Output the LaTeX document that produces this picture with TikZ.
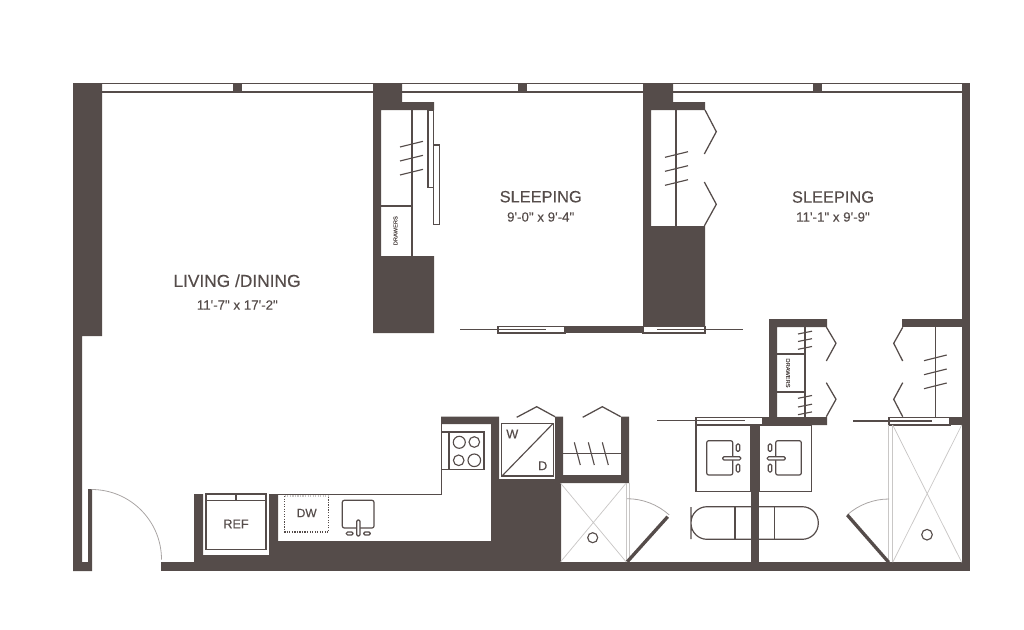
\documentclass[tikz,border=0pt]{standalone}
\usepackage{fontspec}
\setmainfont{Liberation Sans}[Ligatures=TeXOff, FakeBold=0.25]
\definecolor{wallbrown}{HTML}{554C4A}
\definecolor{fixgrey}{HTML}{C9C7C6}
\definecolor{swinggrey}{HTML}{A9A5A4}
\tikzstyle{wall} = [fill=wallbrown, draw=none]
\tikzstyle{fixture} = [draw=wallbrown, line width=0.9pt, fill=white]
\tikzstyle{thinline} = [draw=wallbrown, line width=0.85pt]
\tikzstyle{hanger} = [draw=wallbrown, line width=0.85pt]
\tikzstyle{bifold} = [draw=wallbrown, line width=0.95pt]
\tikzstyle{tiled} = [draw=fixgrey, line width=0.55pt]
\tikzstyle{swing} = [draw=swinggrey, line width=0.6pt]
\tikzstyle{leaf} = [draw=wallbrown, line width=2.5pt]
\tikzstyle{roomname} = [text=wallbrown, font=\fontsize{13}{15}\selectfont, inner sep=0pt]
\tikzstyle{roomsize} = [text=wallbrown, font=\fontsize{10}{12}\selectfont, inner sep=0pt]
\tikzstyle{applabel} = [text=wallbrown, font=\fontsize{9.5}{11}\selectfont, inner sep=0pt]
\tikzstyle{tinylabel} = [text=wallbrown, font=\fontsize{4.3}{5}\selectfont, inner sep=0pt]

\begin{document}
\begin{tikzpicture}[x=0.75pt, y=-0.75pt]
    \useasboundingbox (0,0) rectangle (1024,629);

    % windows
    \draw[thinline] (73,83.5) -- (970,83.5);
    \draw[thinline] (73,92) -- (962,92);
    \foreach \mx in {233,518,813}
        \fill[wall] (\mx,83) rectangle (\mx+9,92);

    % sleeping 1 sliders
    \draw[fixture] (498,326.5) rectangle (565,333);
    \draw[fixture] (643,326.5) rectangle (705,333);
    \draw[thinline] (460,329.5) -- (546,329.5);
    \draw[thinline] (657,329.5) -- (743,329.5);
    \draw[fixture] (696,417.5) rectangle (763,425);
    \draw[thinline] (657,420.8) -- (745,420.8);
    \draw[fixture] (889,417.5) rectangle (950,425);
    \draw[thinline] (853,421) -- (932,421);

    % tub and vanities
    \draw[fixture] (691,523) -- (691,523) [rounded corners=12pt] -- (691,506.7) -- (818.3,506.7) -- (818.3,539.3) -- (691,539.3) -- cycle;
    \draw[thinline] (735,506.7) -- (735,539.3) (774.3,506.7) -- (774.3,539.3);
    \draw[fixture] (696,425) rectangle (751,491.7);
    \draw[fixture] (759,425) rectangle (811.7,491.7);
    \draw[fixture, rounded corners=1.5pt] (706.7,440.7) rectangle (732.7,475);
    \draw[fixture, rounded corners=1.5pt] (775.7,440.7) rectangle (801.3,475);
    \foreach \fx/\kx in {722.7/736.3, 767.3/768.3} {
        \draw[fixture, rounded corners=1pt] (\fx,456.7) rectangle (\fx+18,460);
        \draw[fixture, rounded corners=1pt] (\kx,444) rectangle (\kx+3.5,451.3);
        \draw[fixture, rounded corners=1pt] (\kx,464.3) rectangle (\kx+3.5,472);
    }

    % walls
    \fill[wall] (73,83) -- (102,83) -- (102,336) -- (82,336) -- (82,562) -- (88,562) -- (88,489) -- (92,489) -- (92,571) -- (73,571) -- cycle;
    \fill[wall] (373,83) -- (402,83) -- (402,102) -- (434,102) -- (434,110) -- (381,110) -- (381,256) -- (434,256) -- (434,333) -- (373,333) -- cycle;
    \fill[wall] (643,83) -- (673,83) -- (673,102) -- (705,102) -- (705,110) -- (651,110) -- (651,226) -- (705,226) -- (705,326) -- (643,326) -- cycle;
    \fill[wall] (565,326) rectangle (643,333);
    \fill[wall] (962,83) rectangle (970,571);
    \fill[wall] (161,562) rectangle (970,571);
    \fill[wall] (194,494) -- (203,494) -- (203,555) -- (269,555) -- (269,494) -- (278,494) -- (278,541) -- (491,541) -- (491,424) -- (441,424) -- (441,416.5) -- (499,416.5) -- (499,479) -- (555,479) -- (555,416.5) -- (563,416.5) -- (563,475) -- (621,475) -- (621,416.5) -- (629,416.5) -- (629,483) -- (561,483) -- (561,562) -- (194,562) -- cycle;
    \fill[wall] (769,319) -- (827,319) -- (827,327) -- (777,327) -- (777,417) -- (827,417) -- (827,425) -- (763,425) -- (763,417) -- (769,417) -- cycle;
    \fill[wall] (751,425) rectangle (759,563);
    \fill[wall] (902,319) rectangle (962,327);
    \fill[wall] (950,417) rectangle (962,425);

    % closets
    \draw[thinline] (412,110) -- (412,256) (381,206) -- (412,206);
    \draw[thinline] (676,110) -- (676,226);
    \draw[thinline] (805,327) -- (805,417) (777,354) -- (805,354) (777,392) -- (805,392);
    \draw[thinline] (935.3,327) -- (935.3,417);
    \draw[thinline] (563,453.7) -- (621,453.7);
    \foreach \hy in {0,14,28} {
        \draw[hanger] (400,147+\hy) -- (423,141.3+\hy);
        \draw[hanger] (665,157.3+\hy) -- (688,151.7+\hy);
        \draw[hanger] (924,360.7+\hy) -- (946.7,355+\hy);
        \draw[hanger] (574.3+\hy,442.3) -- (580.3+\hy,465);
    }
    \foreach \hy in {334,341.5,349.3,398.3,407,414.7}
        \draw[hanger] (798,\hy) -- (812,\hy-2.8);
    \draw[fixture] (428,110) rectangle (433.3,187.7);
    \draw[fixture] (433.3,145) rectangle (439.3,224.7);

    % bifold doors
    \draw[bifold] (705,110) -- (716.3,131.7) -- (704.3,154);
    \draw[bifold] (704.3,182) -- (716.3,204.3) -- (704.3,226);
    \draw[bifold] (826.3,327) -- (836,343.3) -- (826.3,361);
    \draw[bifold] (826.3,382.7) -- (836,399.3) -- (826.3,416.7);
    \draw[bifold] (902.7,327.3) -- (893.7,343.3) -- (902.7,361);
    \draw[bifold] (902.7,382.7) -- (893.7,399.3) -- (902.7,416.7);
    \draw[bifold] (516.7,417.3) -- (536.7,406.7) -- (555,416.7);
    \draw[bifold] (582.7,417.3) -- (602.3,406.7) -- (620.7,416.7);

    % washer/dryer
    \draw[fixture, line width=1.1pt] (501.5,423.3) rectangle (553.3,476);
    \draw[thinline] (502,476) -- (553.3,423.3);

    % cooktop
    \draw[thinline] (441.3,432) -- (484,432) -- (484,469.3) -- (441.3,469.3);
    \draw[thinline] (449,432) -- (449,469.3);
    \draw[thinline] (459.3,442.3) circle[radius=6];
    \draw[thinline] (474.3,442) circle[radius=5.3];
    \draw[thinline] (458.7,460.3) circle[radius=5.3];
    \draw[thinline] (474.3,460.3) circle[radius=6.3];

    % counter, fridge, sink
    \draw[thinline] (278,494.3) -- (441.3,494.3) -- (441.3,424);
    \draw[fixture] (206,494) rectangle (266,549.3);
    \draw[thinline] (206,500.7) -- (266,500.7) (236,494) -- (236,500.7);
    \draw[draw=wallbrown, line width=0.9pt, densely dotted] (284.7,496) -- (284.7,532) -- (328.7,532) -- (328.7,496);
    \draw[draw=fixgrey, line width=0.9pt, densely dotted] (284.7,496) -- (328.7,496);
    \draw[fixture, rounded corners=1.5pt] (342.3,500.3) rectangle (374,528);
    \draw[fixture, rounded corners=1pt] (356.7,520) rectangle (360,536);
    \draw[fixture, rounded corners=1pt] (346.3,532) rectangle (353,535);
    \draw[fixture, rounded corners=1pt] (363.7,532) rectangle (370.3,535);

    % showers
    \draw[tiled] (560.7,483.3) -- (626,561.7) (560.7,561.7) -- (626,483.3);
    \draw[tiled] (626,483.3) -- (626,561.7) (629.3,483.3) -- (629.3,561.7);
    \draw[thinline] (592.7,537.7) circle[radius=5];
    \draw[tiled] (892.7,425) -- (961.7,562.3) (892.7,562.3) -- (961.7,425);
    \draw[tiled] (888.7,425) -- (888.7,562.3) (892.7,425) -- (892.7,562.3);
    \draw[thinline] (927,534.7) circle[radius=5.3];

    % door swings
    \draw[swing] (91.5,489.5) arc[start angle=-90, end angle=0, radius=70];
    \draw[swing] (627,498.7) arc[start angle=-90, end angle=-48, radius=63];
    \draw[swing] (889,499) arc[start angle=-90, end angle=-131.6, radius=63];
    \draw[leaf] (627.3,561.7) -- (667.7,516.7);
    \draw[leaf] (888.7,562.3) -- (847.3,515);

    % labels
    \node[roomname] (living) at (237,280.7) {LIVING /DINING};
    \node[roomsize] (livingsize) at (237.3,305) {11'-7" x 17'-2"};
    \node[roomname, font=\fontsize{12.3}{15}\selectfont] (sleepingone) at (540.7,196.7) {SLEEPING};
    \node[roomsize] (sleepingonesize) at (540.7,217) {9'-0" x 9'-4"};
    \node[roomname, font=\fontsize{12.3}{15}\selectfont] (sleepingtwo) at (833,197) {SLEEPING};
    \node[roomsize] (sleepingtwosize) at (833,217) {11'-1" x 9'-9"};
    \node[applabel] (ref) at (236,524) {REF};
    \node[applabel, font=\fontsize{9}{11}\selectfont] (dw) at (306.7,513) {DW};
    \node[applabel] (washer) at (512.3,434) {W};
    \node[applabel] (dryer) at (542.7,465.7) {D};
    \node[tinylabel, rotate=90] (drawersone) at (395.5,230.7) {DRAWERS};
    \node[tinylabel, rotate=-90] (drawerstwo) at (788,373) {DRAWERS};
\end{tikzpicture}
\end{document}
